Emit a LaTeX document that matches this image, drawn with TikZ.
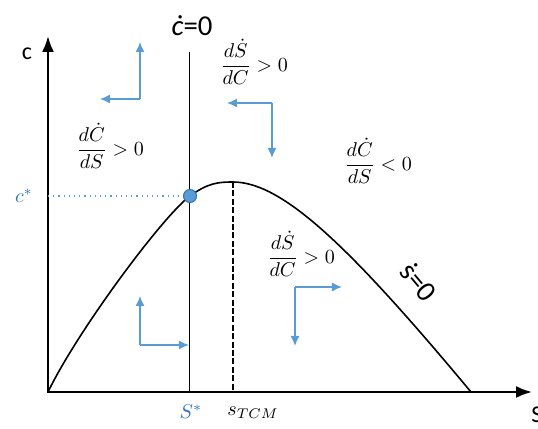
\documentclass[tikz,border=0pt]{standalone}
\usepackage{amsmath,amssymb}
\usepackage{fontspec}
\usepackage{xcolor}
\usepackage{tikz}
\usetikzlibrary{arrows.meta,positioning}

\newfontfamily\carlito{Carlito}
\definecolor{flowblue}{HTML}{5B9BD5}
\definecolor{dotblue}{HTML}{2E75B6}

\begin{document}
\begin{tikzpicture}[>=Latex, x=0.5pt, y=0.5pt,
    axis/.style={<->, line width=1.1pt},
    flow/.style={->, draw=flowblue, line width=0.7pt, >={Latex[length=5pt,width=4.5pt]}},
    locus/.style={line width=0.8pt},
    lbl/.style={font=\carlito\large, inner sep=1pt},
    big lbl/.style={font=\carlito\Large, inner sep=1pt},
    ratio/.style={font=\normalsize, inner sep=1pt},
    blue lbl/.style={text=dotblue, inner sep=1pt}]
  \useasboundingbox (-48,-37) rectangle (490,392);

  % axes
  \coordinate (O) at (0,0);
  \coordinate (ytip) at (0,356);
  \coordinate (xtip) at (484,0);
  \draw[axis] (ytip) -- (O) -- (xtip);
  \node[lbl] (clab) at (-21,338) {c};
  \node[lbl] (slab) at (489,-23) {S};

  % c-dot = 0 locus
  \coordinate (ctop) at (142,340);
  \coordinate (cbot) at (142,0);
  \draw[line width=0.5pt] (ctop) -- (cbot);
  \node[big lbl] (cdot) at (144,366) {\textit{ċ}=0};

  % s-dot = 0 locus
  \coordinate (eqpt) at (142,196);
  \coordinate (peak) at (185,210);
  \coordinate (send) at (423,0);
  \coordinate (pbot) at (185,0);
  \draw[locus] (O) .. controls (30,62) and (115,176) .. (eqpt)
    .. controls (160,209) and (170,210) .. (peak)
    .. controls (235,210) and (303,144) .. (send);
  \draw[line width=1.1pt, dash pattern=on 3pt off 1.2pt] (peak) -- (pbot);
  \node[big lbl, rotate=-50] (sdot) at (371,110) {ṡ=0};

  % steady state
  \coordinate (cy) at (0,196);
  \node[circle, fill=flowblue, draw=dotblue, line width=0.5pt,
    minimum size=6.5pt, inner sep=0pt] (eq) at (eqpt) {};
  \draw[flowblue, dotted, line width=0.6pt] (cy) -- (eq);
  \node[blue lbl] (cstar) at (-24,196) {$c^*$};
  \node[blue lbl] (sstar) at (143,-20) {$S^*$};
  \node[inner sep=1pt] (stcm) at (205,-21) {$s_{TCM}$};

  % regions
  \node[ratio] (r1) at (62,246) {$\dfrac{d\dot{C}}{dS} > 0$};
  \node[ratio] (r2) at (206,330) {$\dfrac{d\dot{S}}{dC} > 0$};
  \node[ratio] (r3) at (330,231) {$\dfrac{d\dot{C}}{dS} < 0$};
  \node[ratio] (r4) at (253,138) {$\dfrac{d\dot{S}}{dC} > 0$};

  % directions of motion
  \coordinate (a1) at (92,293);
  \coordinate (a1u) at (92,350);
  \coordinate (a1l) at (52,293);
  \draw[flow] (a1) -- (a1u);
  \draw[flow] (a1) -- (a1l);

  \coordinate (a2) at (224,289);
  \coordinate (a2l) at (179,289);
  \coordinate (a2d) at (224,234);
  \draw[flow] (a2) -- (a2l);
  \draw[flow] (a2) -- (a2d);

  \coordinate (a3) at (92,47);
  \coordinate (a3u) at (92,96);
  \coordinate (a3r) at (141,47);
  \draw[flow] (a3) -- (a3u);
  \draw[flow] (a3) -- (a3r);

  \coordinate (a4) at (247,105);
  \coordinate (a4r) at (294,105);
  \coordinate (a4d) at (247,46);
  \draw[flow] (a4) -- (a4r);
  \draw[flow] (a4) -- (a4d);
\end{tikzpicture}
\end{document}
